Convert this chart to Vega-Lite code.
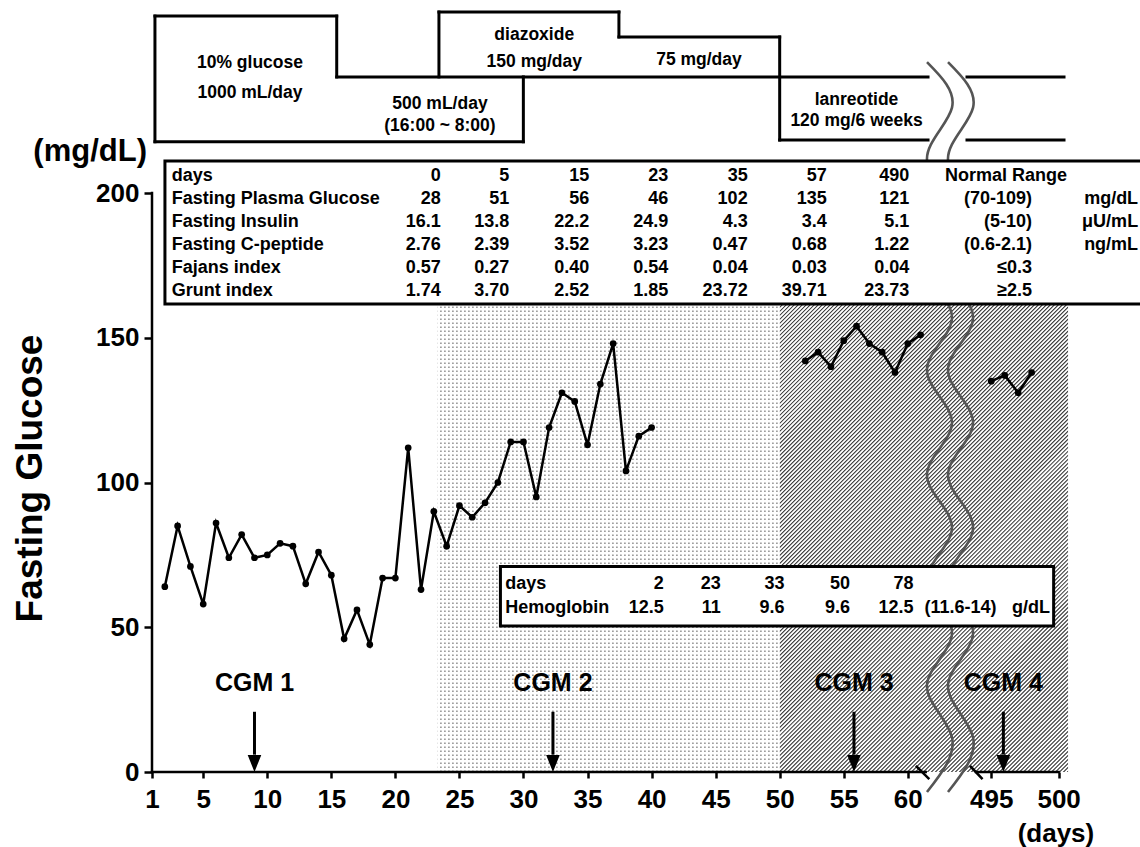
{
  "$schema": "https://vega.github.io/schema/vega-lite/v6.json",
  "width": 988,
  "height": 767,
  "autosize": {"type": "none"},
  "padding": {"left": 152, "top": 5, "right": 0, "bottom": 75},
  "background": "white",
  "config": {"view": {"stroke": null}},
  "datasets": {
    "glucose": [
      {"series": "A", "day": 2, "glucose": 64}, {"series": "A", "day": 3, "glucose": 85}, {"series": "A", "day": 4, "glucose": 71},
      {"series": "A", "day": 5, "glucose": 58}, {"series": "A", "day": 6, "glucose": 86}, {"series": "A", "day": 7, "glucose": 74},
      {"series": "A", "day": 8, "glucose": 82}, {"series": "A", "day": 9, "glucose": 74}, {"series": "A", "day": 10, "glucose": 75},
      {"series": "A", "day": 11, "glucose": 79}, {"series": "A", "day": 12, "glucose": 78}, {"series": "A", "day": 13, "glucose": 65},
      {"series": "A", "day": 14, "glucose": 76}, {"series": "A", "day": 15, "glucose": 68}, {"series": "A", "day": 16, "glucose": 46},
      {"series": "A", "day": 17, "glucose": 56}, {"series": "A", "day": 18, "glucose": 44}, {"series": "A", "day": 19, "glucose": 67},
      {"series": "A", "day": 20, "glucose": 67}, {"series": "A", "day": 21, "glucose": 112}, {"series": "A", "day": 22, "glucose": 63},
      {"series": "A", "day": 23, "glucose": 90}, {"series": "A", "day": 24, "glucose": 78}, {"series": "A", "day": 25, "glucose": 92},
      {"series": "A", "day": 26, "glucose": 88}, {"series": "A", "day": 27, "glucose": 93}, {"series": "A", "day": 28, "glucose": 100},
      {"series": "A", "day": 29, "glucose": 114}, {"series": "A", "day": 30, "glucose": 114}, {"series": "A", "day": 31, "glucose": 95},
      {"series": "A", "day": 32, "glucose": 119}, {"series": "A", "day": 33, "glucose": 131}, {"series": "A", "day": 34, "glucose": 128},
      {"series": "A", "day": 35, "glucose": 113}, {"series": "A", "day": 36, "glucose": 134}, {"series": "A", "day": 37, "glucose": 148},
      {"series": "A", "day": 38, "glucose": 104}, {"series": "A", "day": 39, "glucose": 116}, {"series": "A", "day": 40, "glucose": 119},
      {"series": "B", "day": 52, "glucose": 142}, {"series": "B", "day": 53, "glucose": 145}, {"series": "B", "day": 54, "glucose": 140},
      {"series": "B", "day": 55, "glucose": 149}, {"series": "B", "day": 56, "glucose": 154}, {"series": "B", "day": 57, "glucose": 148},
      {"series": "B", "day": 58, "glucose": 145}, {"series": "B", "day": 59, "glucose": 138}, {"series": "B", "day": 60, "glucose": 148},
      {"series": "B", "day": 61, "glucose": 151},
      {"series": "C", "day": 495, "glucose": 135}, {"series": "C", "day": 496, "glucose": 137}, {"series": "C", "day": 497, "glucose": 131},
      {"series": "C", "day": 498, "glucose": 138}
    ],
    "masks": [
      {"x": 20, "x2": 520, "y": 200, "y2": 275},
      {"x": 20, "x2": 520, "y": 0, "y2": -70},
      {"x": 500.7, "x2": 530, "y": -70, "y2": 275},
      {"x": 20, "x2": 50, "y": -70, "y2": 275}
    ],
    "axisLines": [
      {"x": 1, "x2": 1, "y": 0, "y2": 200},
      {"x": 1, "x2": 61.4, "y": 0, "y2": 0},
      {"x": 493.87, "x2": 500, "y": 0, "y2": 0},
      {"x": 60.7, "x2": 61.61, "y": 1.83, "y2": -2.18},
      {"x": 493.48, "x2": 494.29, "y": 1.83, "y2": -2.18}
    ],
    "waves": [
      {"wave": "L", "k": 0, "x": 61.5, "y": 245.2}, {"wave": "L", "k": 1, "x": 321.4, "y": 229.5}, {"wave": "L", "k": 2, "x": 61.5, "y": 211.4},
      {"wave": "L", "k": 3, "x": 321.4, "y": 193.3}, {"wave": "L", "k": 4, "x": 61.5, "y": 175.1}, {"wave": "L", "k": 5, "x": 321.4, "y": 157},
      {"wave": "L", "k": 6, "x": 61.5, "y": 138.9}, {"wave": "L", "k": 7, "x": 321.4, "y": 120.7}, {"wave": "L", "k": 8, "x": 61.5, "y": 102.6},
      {"wave": "L", "k": 9, "x": 321.4, "y": 84.5}, {"wave": "L", "k": 10, "x": 61.5, "y": 66.3}, {"wave": "L", "k": 11, "x": 321.4, "y": 48.2},
      {"wave": "L", "k": 12, "x": 61.5, "y": 30.1}, {"wave": "L", "k": 13, "x": 321.4, "y": 11.9}, {"wave": "L", "k": 14, "x": 61.5, "y": -6.9},
      {"wave": "R", "k": 0, "x": 265.6, "y": 245.2}, {"wave": "R", "k": 1, "x": 493.65, "y": 229.5}, {"wave": "R", "k": 2, "x": 265.6, "y": 211.4},
      {"wave": "R", "k": 3, "x": 493.65, "y": 193.3}, {"wave": "R", "k": 4, "x": 265.6, "y": 175.1}, {"wave": "R", "k": 5, "x": 493.65, "y": 157},
      {"wave": "R", "k": 6, "x": 265.6, "y": 138.9}, {"wave": "R", "k": 7, "x": 493.65, "y": 120.7}, {"wave": "R", "k": 8, "x": 265.6, "y": 102.6},
      {"wave": "R", "k": 9, "x": 493.65, "y": 84.5}, {"wave": "R", "k": 10, "x": 265.6, "y": 66.3}, {"wave": "R", "k": 11, "x": 493.65, "y": 48.2},
      {"wave": "R", "k": 12, "x": 265.6, "y": 30.1}, {"wave": "R", "k": 13, "x": 493.65, "y": 11.9}, {"wave": "R", "k": 14, "x": 265.6, "y": -6.9}
    ],
    "cgm": [
      {"cgm": "CGM 1", "day": 9},
      {"cgm": "CGM 2", "day": 32.3},
      {"cgm": "CGM 3", "day": 55.8},
      {"cgm": "CGM 4", "day": 495.9}
    ],
    "regimen": [
      {"x": 1.23, "x2": 15.42, "y": 261.1, "y2": 261.1},
      {"x": 15.42, "x2": 15.42, "y": 261.1, "y2": 240.1},
      {"x": 15.42, "x2": 61.58, "y": 240.1, "y2": 240.1},
      {"x": 29.99, "x2": 29.99, "y": 240.1, "y2": 217.7},
      {"x": 1.23, "x2": 29.99, "y": 217.7, "y2": 217.7},
      {"x": 1.23, "x2": 1.23, "y": 217.7, "y2": 261.1},
      {"x": 23.4, "x2": 23.4, "y": 240.1, "y2": 262.5},
      {"x": 23.4, "x2": 37.45, "y": 262.5, "y2": 262.5},
      {"x": 37.45, "x2": 37.45, "y": 262.5, "y2": 253.9},
      {"x": 37.45, "x2": 50, "y": 253.9, "y2": 253.9},
      {"x": 50, "x2": 50, "y": 253.9, "y2": 218.3},
      {"x": 50, "x2": 61.58, "y": 218.3, "y2": 218.3},
      {"x": 493.2, "x2": 500.4, "y": 240.1, "y2": 240.1},
      {"x": 493.2, "x2": 500.4, "y": 218.3, "y2": 218.3}
    ],
    "regimenLabels": [
      {"t": "10% glucose", "at": 8.65, "ypos": 245.0},
      {"t": "1000 mL/day", "at": 8.65, "ypos": 234.4},
      {"t": "500 mL/day", "at": 23.48, "ypos": 230.7},
      {"t": "(16:00 ~ 8:00)", "at": 23.48, "ypos": 223.1},
      {"t": "diazoxide", "at": 30.84, "ypos": 254.6},
      {"t": "150 mg/day", "at": 30.84, "ypos": 245.4},
      {"t": "75 mg/day", "at": 43.7, "ypos": 245.9},
      {"t": "lanreotide", "at": 56.0, "ypos": 232.1},
      {"t": "120 mg/6 weeks", "at": 56.0, "ypos": 224.9}
    ],
    "boxes": [
      {"x": 2.01, "x2": 506.4, "y": 161.66, "y2": 211.05},
      {"x": 28.2, "x2": 499.63, "y": 50.47, "y2": 70.95}
    ],
    "labRows": [
      {"item": "days", "ypos": 205.9, "c1": "0", "c2": "5", "c3": "15", "c4": "23", "c5": "35", "c6": "57", "c7": "490", "range": "", "unit": ""},
      {"item": "Fasting Plasma Glucose", "ypos": 197.8, "c1": "28", "c2": "51", "c3": "56", "c4": "46", "c5": "102", "c6": "135", "c7": "121", "range": "(70-109)", "unit": "mg/dL"},
      {"item": "Fasting Insulin", "ypos": 190.1, "c1": "16.1", "c2": "13.8", "c3": "22.2", "c4": "24.9", "c5": "4.3", "c6": "3.4", "c7": "5.1", "range": "(5-10)", "unit": "μU/mL"},
      {"item": "Fasting C-peptide", "ypos": 182.1, "c1": "2.76", "c2": "2.39", "c3": "3.52", "c4": "3.23", "c5": "0.47", "c6": "0.68", "c7": "1.22", "range": "(0.6-2.1)", "unit": "ng/mL"},
      {"item": "Fajans index", "ypos": 174.1, "c1": "0.57", "c2": "0.27", "c3": "0.40", "c4": "0.54", "c5": "0.04", "c6": "0.03", "c7": "0.04", "range": "≤0.3", "unit": ""},
      {"item": "Grunt index", "ypos": 166.0, "c1": "1.74", "c2": "3.70", "c3": "2.52", "c4": "1.85", "c5": "23.72", "c6": "39.71", "c7": "23.73", "range": "≥2.5", "unit": ""}
    ],
    "labCols": [
      {"col": "c1", "at": 23.54}, {"col": "c2", "at": 28.89}, {"col": "c3", "at": 35.14}, {"col": "c4", "at": 41.31},
      {"col": "c5", "at": 47.5}, {"col": "c6", "at": 53.67}, {"col": "c7", "at": 60.12}
    ],
    "hbRows": [
      {"item": "days", "ypos": 64.94, "h1": "2", "h2": "23", "h3": "33", "h4": "50", "h5": "78", "range": "", "unit": ""},
      {"item": "Hemoglobin", "ypos": 56.75, "h1": "12.5", "h2": "11", "h3": "9.6", "h4": "9.6", "h5": "12.5", "range": "(11.6-14)", "unit": "g/dL"}
    ],
    "hbCols": [
      {"col": "h1", "at": 40.95}, {"col": "h2", "at": 45.41}, {"col": "h3", "at": 50.38}, {"col": "h4", "at": 55.49}, {"col": "h5", "at": 60.45}
    ]
  },
  "layer": [
    {
      "data": {"values": [{"pattern": "lanreotide hatch"}]},
      "mark": {"type": "rule", "color": "#2a2a2a", "strokeWidth": 640, "strokeDash": [1.0, 1.83], "strokeCap": "butt"},
      "encoding": {
        "x": {"datum": 43.61, "type": "quantitative"},
        "y": {"datum": 178.07, "type": "quantitative"},
        "x2": {"datum": 506.77},
        "y2": {"datum": 21.93}
      }
    },
    {
      "data": {"name": "masks"},
      "mark": {"type": "rect", "fill": "white", "strokeWidth": 0},
      "encoding": {
        "x": {"field": "x", "type": "quantitative"},
        "x2": {"field": "x2"},
        "y": {"field": "y", "type": "quantitative"},
        "y2": {"field": "y2"}
      }
    },
    {
      "data": {"values": [{"pattern": "diazoxide dots rows"}]},
      "mark": {"type": "rule", "color": "#8c8c8c", "strokeWidth": 342, "strokeDash": [1.5, 2.5], "strokeCap": "butt"},
      "encoding": {
        "x": {"datum": 36.65, "type": "quantitative"},
        "y": {"datum": 0, "type": "quantitative"},
        "y2": {"datum": 200}
      }
    },
    {
      "data": {"values": [{"pattern": "diazoxide dots columns"}]},
      "mark": {"type": "rule", "color": "white", "strokeWidth": 579, "strokeDash": [2.5, 1.5], "strokeCap": "butt"},
      "encoding": {
        "x": {"datum": 23.3, "type": "quantitative"},
        "x2": {"datum": 50},
        "y": {"datum": 100, "type": "quantitative"}
      }
    },
    {
      "data": {"name": "glucose"},
      "mark": {"type": "line", "color": "black", "strokeWidth": 2.5, "point": {"filled": true, "color": "black", "size": 45}},
      "encoding": {
        "x": {
          "field": "day", "type": "quantitative",
          "scale": {"type": "linear", "domain": [1, 62, 493, 501], "range": [0, 781.4, 812.3, 920.1], "nice": false, "zero": false},
          "axis": {
            "values": [1, 5, 10, 15, 20, 25, 30, 35, 40, 45, 50, 55, 60, 495, 500],
            "title": null, "domain": false, "grid": false, "zindex": 1,
            "tickSize": 6, "tickWidth": 2.5, "tickColor": "black",
            "labelFont": "Liberation Sans", "labelFontSize": 26, "labelFontWeight": "bold", "labelColor": "black",
            "labelPadding": 8, "labelOverlap": false, "labelFlush": false
          }
        },
        "y": {
          "field": "glucose", "type": "quantitative",
          "scale": {"domain": [0, 264.94], "nice": false, "zero": false},
          "axis": {
            "values": [0, 50, 100, 150, 200],
            "title": "Fasting Glucose", "titleFont": "Liberation Sans", "titleFontSize": 37, "titleFontWeight": "bold", "titleColor": "black",
            "titleX": -122, "titleY": 473, "titleAngle": 270, "titleBaseline": "middle", "titleAlign": "center",
            "domain": false, "grid": false, "zindex": 1,
            "tickSize": 8, "tickWidth": 2.5, "tickColor": "black",
            "labelFont": "Liberation Sans", "labelFontSize": 26, "labelFontWeight": "bold", "labelColor": "black",
            "labelPadding": 5
          }
        },
        "detail": {"field": "series", "type": "nominal"}
      }
    },
    {
      "data": {"name": "waves"},
      "mark": {"type": "line", "color": "#555555", "strokeWidth": 2.6, "interpolate": "natural"},
      "encoding": {
        "x": {"field": "x", "type": "quantitative"},
        "y": {"field": "y", "type": "quantitative"},
        "detail": {"field": "wave", "type": "nominal"},
        "order": {"field": "k", "type": "quantitative"}
      }
    },
    {
      "data": {"name": "axisLines"},
      "mark": {"type": "rule", "color": "black", "strokeWidth": 2.5, "strokeCap": "square"},
      "encoding": {
        "x": {"field": "x", "type": "quantitative"},
        "x2": {"field": "x2"},
        "y": {"field": "y", "type": "quantitative"},
        "y2": {"field": "y2"}
      }
    },
    {
      "data": {"name": "cgm"},
      "mark": {"type": "rule", "color": "black", "strokeWidth": 3},
      "encoding": {
        "x": {"field": "day", "type": "quantitative"},
        "y": {"datum": 20.8, "type": "quantitative"},
        "y2": {"datum": 6}
      }
    },
    {
      "data": {"name": "cgm"},
      "mark": {"type": "point", "shape": "M-0.8,-1L0.8,-1L0,1Z", "filled": true, "color": "black", "size": 289, "opacity": 1},
      "encoding": {
        "x": {"field": "day", "type": "quantitative"},
        "y": {"datum": 2.94, "type": "quantitative"}
      }
    },
    {
      "data": {"name": "cgm"},
      "mark": {"type": "text", "font": "Liberation Sans", "fontSize": 25, "fontWeight": "bold", "color": "black", "align": "center", "baseline": "middle"},
      "encoding": {
        "x": {"field": "day", "type": "quantitative"},
        "y": {"datum": 30.64, "type": "quantitative"},
        "text": {"field": "cgm"}
      }
    },
    {
      "data": {"name": "regimen"},
      "mark": {"type": "rule", "color": "black", "strokeWidth": 3, "strokeCap": "square"},
      "encoding": {
        "x": {"field": "x", "type": "quantitative"},
        "x2": {"field": "x2"},
        "y": {"field": "y", "type": "quantitative"},
        "y2": {"field": "y2"}
      }
    },
    {
      "data": {"name": "regimenLabels"},
      "mark": {"type": "text", "font": "Liberation Sans", "fontSize": 17.5, "fontWeight": "bold", "color": "black", "align": "center", "baseline": "middle"},
      "encoding": {
        "x": {"field": "at", "type": "quantitative"},
        "y": {"field": "ypos", "type": "quantitative"},
        "text": {"field": "t"}
      }
    },
    {
      "data": {"name": "boxes"},
      "mark": {"type": "rect", "fill": "white", "stroke": "black", "strokeWidth": 3},
      "encoding": {
        "x": {"field": "x", "type": "quantitative"},
        "x2": {"field": "x2"},
        "y": {"field": "y", "type": "quantitative"},
        "y2": {"field": "y2"}
      }
    },
    {
      "data": {"name": "labRows"},
      "mark": {"type": "text", "font": "Liberation Sans", "fontSize": 18, "fontWeight": "bold", "color": "black", "align": "left", "baseline": "middle"},
      "encoding": {
        "x": {"datum": 2.54, "type": "quantitative"},
        "y": {"field": "ypos", "type": "quantitative"},
        "text": {"field": "item"}
      }
    },
    {
      "data": {"name": "labRows"},
      "transform": [
        {"fold": ["c1", "c2", "c3", "c4", "c5", "c6", "c7"], "as": ["col", "txt"]},
        {"lookup": "col", "from": {"data": {"name": "labCols"}, "key": "col", "fields": ["at"]}}
      ],
      "mark": {"type": "text", "font": "Liberation Sans", "fontSize": 18, "fontWeight": "bold", "color": "black", "align": "right", "baseline": "middle"},
      "encoding": {
        "x": {"field": "at", "type": "quantitative"},
        "y": {"field": "ypos", "type": "quantitative"},
        "text": {"field": "txt"}
      }
    },
    {
      "data": {"name": "labRows"},
      "mark": {"type": "text", "font": "Liberation Sans", "fontSize": 18, "fontWeight": "bold", "color": "black", "align": "right", "baseline": "middle"},
      "encoding": {
        "x": {"datum": 498.03, "type": "quantitative"},
        "y": {"field": "ypos", "type": "quantitative"},
        "text": {"field": "range"}
      }
    },
    {
      "data": {"name": "labRows"},
      "mark": {"type": "text", "font": "Liberation Sans", "fontSize": 18, "fontWeight": "bold", "color": "black", "align": "right", "baseline": "middle"},
      "encoding": {
        "x": {"datum": 505.9, "type": "quantitative"},
        "y": {"field": "ypos", "type": "quantitative"},
        "text": {"field": "unit"}
      }
    },
    {
      "data": {"values": [{"t": "Normal Range", "at": 496.1, "ypos": 205.9}]},
      "mark": {"type": "text", "font": "Liberation Sans", "fontSize": 18, "fontWeight": "bold", "color": "black", "align": "center", "baseline": "middle"},
      "encoding": {
        "x": {"field": "at", "type": "quantitative"},
        "y": {"field": "ypos", "type": "quantitative"},
        "text": {"field": "t"}
      }
    },
    {
      "data": {"name": "hbRows"},
      "mark": {"type": "text", "font": "Liberation Sans", "fontSize": 18, "fontWeight": "bold", "color": "black", "align": "left", "baseline": "middle"},
      "encoding": {
        "x": {"datum": 28.58, "type": "quantitative"},
        "y": {"field": "ypos", "type": "quantitative"},
        "text": {"field": "item"}
      }
    },
    {
      "data": {"name": "hbRows"},
      "transform": [
        {"fold": ["h1", "h2", "h3", "h4", "h5"], "as": ["col", "txt"]},
        {"lookup": "col", "from": {"data": {"name": "hbCols"}, "key": "col", "fields": ["at"]}}
      ],
      "mark": {"type": "text", "font": "Liberation Sans", "fontSize": 18, "fontWeight": "bold", "color": "black", "align": "right", "baseline": "middle"},
      "encoding": {
        "x": {"field": "at", "type": "quantitative"},
        "y": {"field": "ypos", "type": "quantitative"},
        "text": {"field": "txt"}
      }
    },
    {
      "data": {"name": "hbRows"},
      "mark": {"type": "text", "font": "Liberation Sans", "fontSize": 18, "fontWeight": "bold", "color": "black", "align": "left", "baseline": "middle"},
      "encoding": {
        "x": {"datum": 61.31, "type": "quantitative"},
        "y": {"field": "ypos", "type": "quantitative"},
        "text": {"field": "range"}
      }
    },
    {
      "data": {"name": "hbRows"},
      "mark": {"type": "text", "font": "Liberation Sans", "fontSize": 18, "fontWeight": "bold", "color": "black", "align": "right", "baseline": "middle"},
      "encoding": {
        "x": {"datum": 499.36, "type": "quantitative"},
        "y": {"field": "ypos", "type": "quantitative"},
        "text": {"field": "unit"}
      }
    },
    {
      "data": {"values": [{"t": "(mg/dL)", "at": 0.61, "ypos": 214.2}]},
      "mark": {"type": "text", "font": "Liberation Sans", "fontSize": 31, "fontWeight": "bold", "color": "black", "align": "right", "baseline": "middle"},
      "encoding": {
        "x": {"field": "at", "type": "quantitative"},
        "y": {"field": "ypos", "type": "quantitative"},
        "text": {"field": "t"}
      }
    },
    {
      "data": {"values": [{"t": "(days)", "at": 499.8, "ypos": -21.4}]},
      "mark": {"type": "text", "font": "Liberation Sans", "fontSize": 26, "fontWeight": "bold", "color": "black", "align": "center", "baseline": "middle"},
      "encoding": {
        "x": {"field": "at", "type": "quantitative"},
        "y": {"field": "ypos", "type": "quantitative"},
        "text": {"field": "t"}
      }
    }
  ]
}
